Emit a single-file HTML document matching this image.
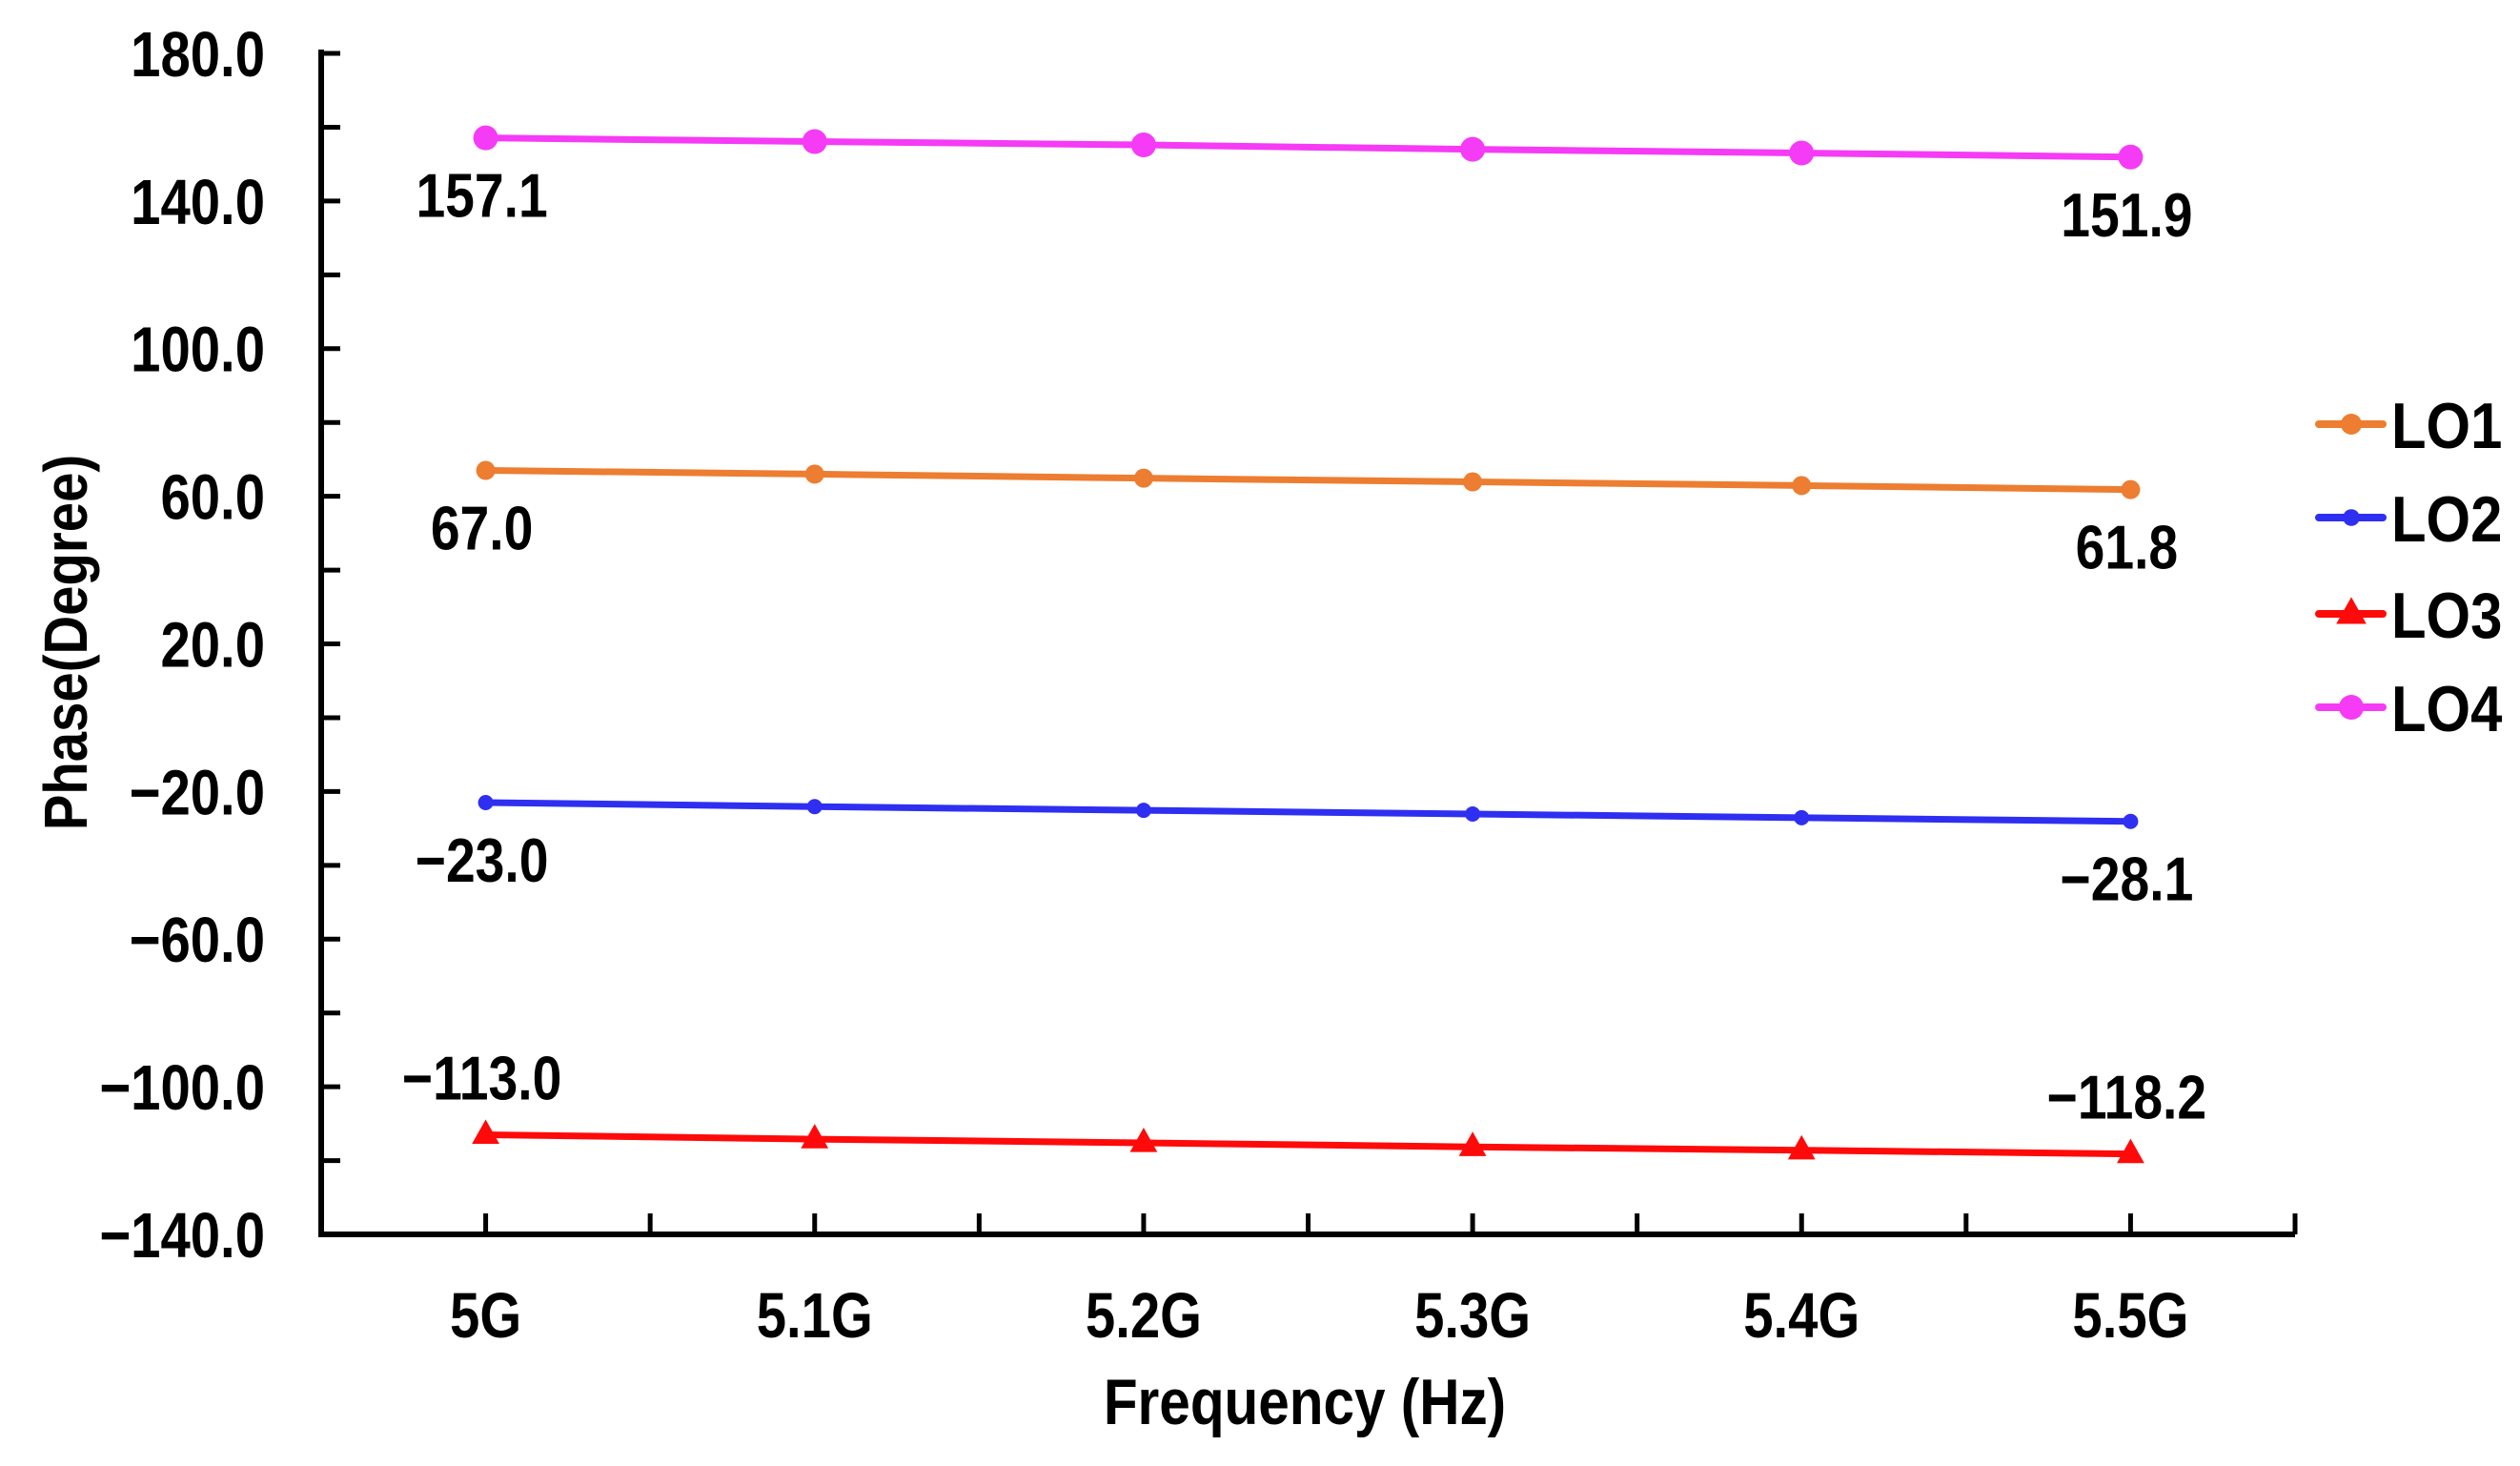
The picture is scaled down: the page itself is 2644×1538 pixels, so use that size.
<!DOCTYPE html>
<html><head><meta charset="utf-8"><style>
html,body{margin:0;padding:0;background:#fff;}
svg{display:block;font-family:"Liberation Sans",Arial,sans-serif;font-weight:bold;}
</style></head><body>
<svg id="chart" width="2644" height="1538" viewBox="0 0 2644 1538" xmlns="http://www.w3.org/2000/svg">
<g id="axes"></g><g id="series"></g><g id="legend"></g>
</svg>
<script>
const categories = ["5G","5.1G","5.2G","5.3G","5.4G","5.5G"];
const seriesNames = ["LO1","LO2","LO3","LO4"];
const lo1 = [67.0, 66.0, 64.9, 63.9, 62.9, 61.8];
const lo2 = [-23.0, -24.1, -25.1, -26.1, -27.1, -28.1];
const lo3 = [-113.0, -114.2, -115.2, -116.3, -117.2, -118.2];
const lo4 = [157.1, 156.1, 155.2, 154.0, 153.0, 151.9];
const yTicks = [180,140,100,60,20,-20,-60,-100,-140];
const yMin = -140, yMax = 180;

const NS="http://www.w3.org/2000/svg";
const L=337,R=2408,T=56,B=1295;
const step=(R-L)/categories.length;
const xS=i=>L+step*(i+0.5);
const yS=v=>B-(v-yMin)/(yMax-yMin)*(B-T);
function mk(tag,attrs,parent){const e=document.createElementNS(NS,tag);for(const k in attrs)e.setAttribute(k,attrs[k]);parent.appendChild(e);return e;}
function fmt(v){return (v<0?"\u2212"+(-v).toFixed(1):v.toFixed(1));}
const axes=document.getElementById('axes');
let e;
e=mk('line',{x1:L,y1:T-4,x2:L,y2:B+3,stroke:'#000','stroke-width':6},axes);


e=mk('line',{x1:L-3,y1:B,x2:R,y2:B,stroke:'#000','stroke-width':6},axes);


for(let v=yMin;v<=yMax;v+=20){
  e=mk('line',{x1:L,y1:yS(v),x2:L+20,y2:yS(v),stroke:'#000','stroke-width':5},axes);
  
  
}
yTicks.forEach(v=>{
  e=mk('text',{x:278,y:yS(v)+24,'text-anchor':'end','font-size':67,transform:`translate(278 0) scale(0.84 1) translate(-278 0)`},axes);
  e.textContent=fmt(v);
  
  
});
for(let k=1;k<=categories.length*2;k++){
  const x=L+step*k/2;
  e=mk('line',{x1:x,y1:B,x2:x,y2:B-22,stroke:'#000','stroke-width':5},axes);
  
  
}
categories.forEach((c,i)=>{
  e=mk('text',{x:xS(i),y:1403,'text-anchor':'middle','font-size':67,transform:`translate(${xS(i)} 0) scale(0.84 1) translate(${-xS(i)} 0)`},axes);
  e.textContent=c;
  
  
});
e=mk('text',{x:1369,y:1494,'text-anchor':'middle','font-size':68,transform:'translate(1369 0) scale(0.86 1) translate(-1369 0)'},axes);
e.textContent='Frequency (Hz)';


e=mk('text',{x:0,y:0,'text-anchor':'middle','font-size':64,transform:'translate(91 674) rotate(-90) scale(0.88 1)'},axes);
e.textContent='Phase(Degree)';



const data=[lo1,lo2,lo3,lo4];
const colors=['#ED7D31','#2F2FF2','#FF0A0A','#F53BF5'];
const markerR=[10,8,0,13];
const labelBelow=[true,true,false,true];
const ser=document.getElementById('series');
function marker(i,x,y,g,scale){
  if(i===2){
    const s=16*scale;
    return mk('polygon',{points:`${x},${y-s} ${x-s*0.9},${y+s*0.6} ${x+s*0.9},${y+s*0.6}`,fill:colors[i]},g);
  }
  return mk('circle',{cx:x,cy:y,r:markerR[i]*scale,fill:colors[i]},g);
}
data.forEach((arr,si)=>{
  const g=mk('g',{},ser);
  
  
  const pts=arr.map((v,i)=>xS(i)+','+yS(v)).join(' ');
  e=mk('polyline',{points:pts,fill:'none',stroke:colors[si],'stroke-width':7,'stroke-linejoin':'round'},g);
  
  
  arr.forEach((v,i)=>{
    e=marker(si,xS(i),yS(v),g,1);
    
    
  });
  [0,arr.length-1].forEach(i=>{
    const x=xS(i)-4, y=yS(arr[i])+(labelBelow[si]?60+23:-60+23);
    e=mk('text',{x:x,y:y,'text-anchor':'middle','font-size':65,transform:`translate(${x} 0) scale(0.85 1) translate(${-x} 0)`},g);
    e.textContent=fmt(arr[i]);
    
    
  });
});
const leg=document.getElementById('legend');


const legY=[445,543,644,742];
seriesNames.forEach((n,i)=>{
  const g=mk('g',{},leg);
  
  
  mk('line',{x1:2433,y1:legY[i],x2:2500,y2:legY[i],stroke:colors[i],'stroke-width':8,'stroke-linecap':'round'},g);
  marker(i,2467,legY[i],g,i===3?1:1.1);
  const t=mk('text',{x:2509,y:legY[i]+25,'font-size':68,transform:'translate(2509 0) scale(0.88 1) translate(-2509 0)'},g);
  t.textContent=n;
});
</script>
</body></html>
